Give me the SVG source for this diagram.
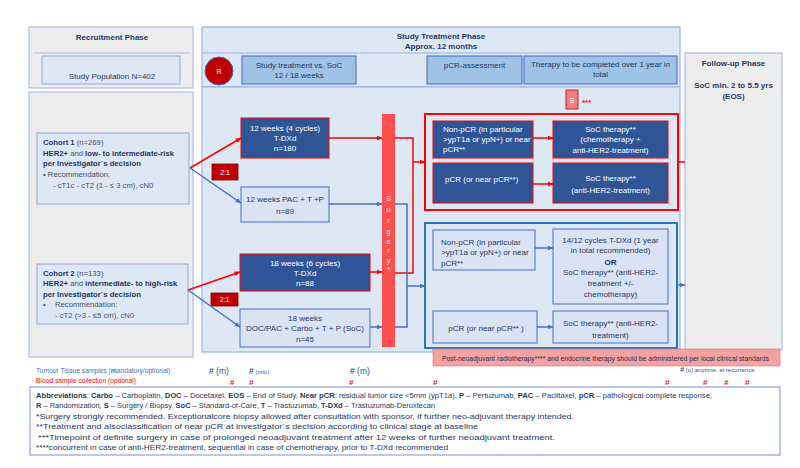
<svg xmlns="http://www.w3.org/2000/svg" width="800" height="468" viewBox="0 0 800 468">
<defs>
<marker id="ar" viewBox="0 0 10 10" refX="9" refY="5" markerUnits="userSpaceOnUse" markerWidth="6" markerHeight="6" orient="auto"><path d="M0,1 L10,5 L0,9 z" fill="#ff0000"/></marker>
<marker id="ab" viewBox="0 0 10 10" refX="9" refY="5" markerUnits="userSpaceOnUse" markerWidth="6" markerHeight="6" orient="auto"><path d="M0,1 L10,5 L0,9 z" fill="#4472c4"/></marker>
</defs>
<style>
text{font-family:"Liberation Sans",Arial,sans-serif;}
.t{font-size:8px;fill:#1f3864}
.c{text-anchor:middle}
.b{font-weight:bold}
.w{font-size:8px;fill:#ffffff}
.k{font-size:7.7px;fill:#1f3864}
.g{font-size:7.7px;fill:#44546a}
.grey{fill:#ededed;stroke:#a9bde3;stroke-width:1.2}
.pan{fill:#dee7f4;stroke:#9db5e0;stroke-width:1.2}
.hdr{fill:#9dc3e6;stroke:#4a64c8;stroke-width:1}
.dk{fill:#2f5597;stroke:#ff0000;stroke-width:1}
.lt{fill:#dae3f3;stroke:#4472c4;stroke-width:1}
.rl{fill:none;stroke:#ff0000;stroke-width:1.5}
.bl{fill:none;stroke:#4472c4;stroke-width:1.5}
.ab{font-size:7.5px;fill:#1f3864}
.rh{font-size:8px;fill:#ff0000;font-weight:bold}
</style>
<rect width="800" height="468" fill="#ffffff"/>

<!-- Recruitment phase -->
<g id="recruitment">
<rect x="29" y="27" width="164" height="61" class="grey"/>
<text x="112" y="39.5" class="t c b">Recruitment Phase</text>
<line x1="33" y1="53" x2="191" y2="53" stroke="#a9bde3" stroke-width="1"/>
</g>
<g id="study-population">
<rect x="42" y="56" width="138" height="28" fill="#dee7f4" stroke="#8eaadb" stroke-width="1"/>
<text x="112" y="78.5" class="t c">Study Population N=402</text>
</g>
<g id="cohort-panel">
<rect x="29" y="92" width="164" height="265" class="grey"/>
</g>

<!-- Study treatment phase -->
<g id="treatment-panel">
<rect x="202" y="27" width="478" height="60" class="pan"/>
<rect x="202" y="87" width="478" height="265" class="pan"/>
<line x1="202" y1="53" x2="660" y2="53" stroke="#9db5e0" stroke-width="1"/>
<text x="441" y="39" class="t c b">Study Treatment Phase</text>
<text x="441" y="49" class="t c b">Approx. 12 months</text>
</g>
<g id="R">
<circle cx="219" cy="71" r="14" fill="#c00000" stroke="#4a64c8" stroke-width="1"/>
<text x="219" y="73.5" class="w c" style="font-size:7px">R</text>
</g>
<g id="hdr-study">
<rect x="242" y="56" width="114" height="28" class="hdr"/>
<text x="299" y="67.5" class="t c">Study treatment vs. SoC</text>
<text x="299" y="77.5" class="t c">12 / 18 weeks</text>
</g>
<g id="hdr-pcr">
<rect x="427" y="56" width="95" height="28" class="hdr"/>
<text x="474.5" y="67.5" class="t c">pCR-assessment</text>
</g>
<g id="hdr-therapy">
<rect x="524" y="56" width="153" height="28" class="hdr"/>
<text x="600.5" y="67" class="t c">Therapy to be completed over 1 year in</text>
<text x="600.5" y="77" class="t c">total</text>
</g>

<!-- Follow-up -->
<g id="followup">
<rect x="685" y="53" width="97" height="297" class="grey"/>
<text x="733.5" y="66" class="t c b">Follow-up Phase</text>
<text x="733.5" y="88" class="t c b">SoC min. 2 to 5.5 yrs</text>
<text x="733.5" y="99" class="t c b">(EOS)</text>
</g>

<!-- Cohorts -->
<g id="cohort1">
<rect x="37" y="133" width="152" height="71" fill="#dee7f4" stroke="#8eaadb" stroke-width="1"/>
<text x="43" y="145" class="k"><tspan class="b">Cohort 1</tspan><tspan fill="#44546a"> (n=269)</tspan></text>
<text x="43" y="155.5" class="k b">HER2+<tspan font-weight="normal" fill="#44546a"> and </tspan>low- to intermediate-risk</text>
<text x="43" y="166" class="k b">per Investigator´s decision</text>
<text x="43" y="176.5" class="g">• Recommendation:</text>
<text x="53" y="188" class="g">- cT1c - cT2 (1 - ≤ 3 cm), cN0</text>
</g>
<g id="cohort2">
<rect x="37" y="264" width="151" height="60" fill="#dee7f4" stroke="#8eaadb" stroke-width="1"/>
<text x="43" y="275.5" class="k"><tspan class="b">Cohort 2</tspan><tspan fill="#44546a"> (n=133)</tspan></text>
<text x="43" y="286" class="k b">HER2+<tspan font-weight="normal" fill="#44546a"> and </tspan>intermediate- to high-risk</text>
<text x="43" y="296.5" class="k b">per Investigator´s decision</text>
<text x="43" y="307" class="g">•</text>
<text x="55" y="307" class="g">Recommendation:</text>
<text x="55" y="318" class="g">- cT2 (&gt;3 - ≤5 cm), cN0</text>
</g>

<!-- Arms -->
<g id="arm1">
<rect x="241" y="118" width="88" height="40" class="dk"/>
<text x="285" y="130.5" class="w c">12 weeks (4 cycles)</text>
<text x="285" y="140.5" class="w c">T-DXd</text>
<text x="285" y="150.5" class="w c">n=180</text>
</g>
<g id="ratio1">
<rect x="212" y="164" width="26" height="16" fill="#c00000" stroke="#7f0000" stroke-width="0.8"/>
<text x="225" y="174.5" class="w c" style="font-size:7px">2:1</text>
</g>
<g id="arm2">
<rect x="241" y="187" width="88" height="35" class="lt"/>
<text x="285" y="201.5" class="t c">12 weeks PAC + T +P</text>
<text x="285" y="213.5" class="t c">n=89</text>
</g>
<g id="arm3">
<rect x="240" y="254" width="130" height="37" class="dk"/>
<text x="305" y="265.5" class="w c">18 weeks (6 cycles)</text>
<text x="305" y="275.5" class="w c">T-DXd</text>
<text x="305" y="285.5" class="w c">n=88</text>
</g>
<g id="ratio2">
<rect x="211" y="293" width="27" height="13" fill="#c00000" stroke="#7f0000" stroke-width="0.8"/>
<text x="224.5" y="302" class="w c" style="font-size:7px">2:1</text>
</g>
<g id="arm4">
<rect x="240" y="309" width="130" height="38" class="lt"/>
<text x="305" y="320.5" class="t c">18 weeks</text>
<text x="305" y="330.5" class="t c">DOC/PAC + Carbo + T + P (SoC)</text>
<text x="305" y="341.5" class="t c">n=45</text>
</g>

<!-- Surgery -->
<g id="surgery">
<rect x="382" y="114" width="13" height="233" fill="#ff5050"/>
<g class="w c" style="font-size:7px">
<text x="388.5" y="201">S</text>
<text x="388.5" y="212">u</text>
<text x="388.5" y="223">r</text>
<text x="388.5" y="234">g</text>
<text x="388.5" y="244">e</text>
<text x="388.5" y="253">r</text>
<text x="388.5" y="263">y</text>
<text x="388.5" y="272">*</text>
</g>
</g>

<g id="S-marker">
<rect x="566" y="90" width="12" height="19" fill="#f08080" stroke="#c00000" stroke-width="0.8"/>
<text x="572" y="102.5" class="w c" style="font-size:7px">S</text>
<text x="582" y="105" class="rh">***</text>
</g>

<!-- Red container -->
<g id="red-container">
<rect x="425" y="114" width="253" height="96" fill="none" stroke="#ff0000" stroke-width="2"/>
</g>
<g id="r-nonpcr">
<rect x="433" y="121" width="100" height="37" class="dk"/>
<text x="443" y="131.5" class="w">Non-pCR (in particular</text>
<text x="443" y="141.5" class="w">&gt;ypT1a or ypN+) or near</text>
<text x="443" y="151.5" class="w">pCR**</text>
</g>
<g id="r-soc1">
<rect x="553" y="121" width="115" height="37" class="dk"/>
<text x="610.5" y="131.5" class="w c">SoC therapy**</text>
<text x="610.5" y="142" class="w c">(chemotherapy +</text>
<text x="610.5" y="152.5" class="w c">anti-HER2-treatment)</text>
</g>
<g id="r-pcr">
<rect x="433" y="163" width="100" height="40" class="dk"/>
<text x="445" y="181.5" class="w">pCR (or near pCR**)</text>
</g>
<g id="r-soc2">
<rect x="553" y="163" width="115" height="40" class="dk"/>
<text x="610.5" y="180.5" class="w c">SoC therapy**</text>
<text x="610.5" y="192.5" class="w c">(anti-HER2-treatment)</text>
</g>

<!-- Blue container -->
<g id="blue-container">
<rect x="425" y="223" width="252" height="125" fill="none" stroke="#2e75b6" stroke-width="2"/>
</g>
<g id="b-nonpcr">
<rect x="433" y="230" width="102" height="40" class="lt"/>
<text x="441" y="244.5" class="t">Non-pCR (in particular</text>
<text x="441" y="255" class="t">&gt;ypT1a or ypN+) or near</text>
<text x="441" y="265.5" class="t">pCR**</text>
</g>
<g id="b-tdxd">
<rect x="553" y="229" width="115" height="75" class="lt"/>
<text x="610.5" y="242.5" class="t c">14/12 cycles T-DXd (1 year</text>
<text x="610.5" y="252.5" class="t c">in total recommended)</text>
<text x="610.5" y="264.5" class="t c b">OR</text>
<text x="610.5" y="274.5" class="t c">SoC therapy** (anti-HER2-</text>
<text x="610.5" y="285.5" class="t c">treatment +/-</text>
<text x="610.5" y="296.5" class="t c">chemotherapy)</text>
</g>
<g id="b-pcr">
<rect x="433" y="311" width="104" height="32" class="lt"/>
<text x="486" y="330.5" class="t c">pCR (or near pCR** )</text>
</g>
<g id="b-soc">
<rect x="553" y="311" width="115" height="32" class="lt"/>
<text x="610.5" y="325.5" class="t c">SoC therapy** (anti-HER2-</text>
<text x="610.5" y="337.5" class="t c">treatment)</text>
</g>

<g id="post-neoadjuvant">
<rect x="433" y="349" width="347" height="17" fill="#f4a3a3" stroke="#e07070" stroke-width="0.6"/>
<text x="442" y="360.5" textLength="327" lengthAdjust="spacingAndGlyphs" style="font-size:7px;fill:#2b2b55">Post-neoadjuvant radiotherapy**** and endocrine therapy should be administered per local clinical standards</text>
</g>

<!-- Connectors -->
<g id="connectors">
<polyline points="190,168 241,138" class="rl" marker-end="url(#ar)"/>
<polyline points="190,168 241,203" class="bl" marker-end="url(#ab)"/>
<polyline points="188,290 240,272" class="rl" marker-end="url(#ar)"/>
<polyline points="188,290 240,327" class="bl" marker-end="url(#ab)"/>
<line x1="329" y1="138" x2="382" y2="138" class="rl" marker-end="url(#ar)"/>
<line x1="329" y1="204" x2="382" y2="204" class="bl" marker-end="url(#ab)"/>
<line x1="370" y1="272" x2="382" y2="272" class="rl" marker-end="url(#ar)"/>
<line x1="370" y1="327" x2="382" y2="327" class="bl" marker-end="url(#ab)"/>
<polyline points="395,138 413,138 413,273 395,273" class="rl"/>
<line x1="413" y1="162" x2="425" y2="162" class="rl" marker-end="url(#ar)"/>
<polyline points="395,204 407,204 407,327 395,327" class="bl"/>
<line x1="407" y1="286" x2="425" y2="286" class="bl" marker-end="url(#ab)"/>
<line x1="533" y1="138" x2="553" y2="138" class="rl" marker-end="url(#ar)"/>
<line x1="533" y1="184" x2="553" y2="184" class="rl" marker-end="url(#ar)"/>
<line x1="535" y1="248" x2="553" y2="248" class="bl" marker-end="url(#ab)"/>
<line x1="537" y1="327" x2="553" y2="327" class="bl" marker-end="url(#ab)"/>
<line x1="678" y1="162" x2="685" y2="162" class="rl"/>
<line x1="677" y1="285" x2="685" y2="285" class="bl" marker-end="url(#ab)"/>
</g>

<!-- Sample legend -->
<g id="samples">
<text x="36" y="372.5" style="font-size:6.7px;fill:#4472c4">Tumour Tissue samples (<tspan font-weight="bold">m</tspan>andatory/optional)</text>
<text x="36" y="383" style="font-size:6.7px;fill:#ff0000">Blood sample collection (optional)</text>
<text x="209" y="373.5" style="font-size:8.5px;fill:#2f5597"><tspan font-weight="bold">#</tspan> (m)</text>
<text x="249" y="373.5" style="font-size:8.5px;fill:#2f5597"><tspan font-weight="bold">#</tspan><tspan style="font-size:6px"> (m/o)</tspan></text>
<text x="350" y="373.5" style="font-size:8.5px;fill:#2f5597"><tspan font-weight="bold">#</tspan> (m)</text>
<text x="680" y="372" style="font-size:7.5px;fill:#2f5597"><tspan font-weight="bold">#</tspan><tspan style="font-size:6px"> (o) anytime, at recurrence</tspan></text>
<text x="230" y="385" class="rh">#</text>
<text x="249" y="385" class="rh">#</text>
<text x="349" y="385" class="rh">#</text>
<text x="433" y="385" class="rh">#</text>
<text x="665" y="385" class="rh">#</text>
<text x="703" y="385" class="rh">#</text>
<text x="724" y="385" class="rh">#</text>
<text x="745" y="385" class="rh">#</text>
</g>

<!-- Abbreviations -->
<g id="abbreviations">
<rect x="30" y="387" width="750" height="68" fill="#ffffff" stroke="#7b8fd6" stroke-width="1"/>
<text x="36" y="397.5" class="ab" textLength="676" lengthAdjust="spacingAndGlyphs"><tspan class="b">Abbreviations</tspan>: <tspan class="b">Carbo</tspan> – Carboplatin, <tspan class="b">DOC</tspan> – Docetaxel, <tspan class="b">EOS</tspan> – End of Study, <tspan class="b">Near pCR</tspan>: residual tumor size &lt;5mm (ypT1a), <tspan class="b">P</tspan> – Pertuzumab, <tspan class="b">PAC</tspan> – Paclitaxel, <tspan class="b">pCR</tspan> – pathological complete response,</text>
<text x="36" y="408" class="ab" textLength="399" lengthAdjust="spacingAndGlyphs"><tspan class="b">R</tspan> – Randomization, <tspan class="b">S</tspan> – Surgery / Biopsy, <tspan class="b">SoC</tspan> – Standard-of-Care, <tspan class="b">T</tspan> – Trastuzumab, <tspan class="b">T-DXd</tspan> – Trastuzumab-Deruxtecan</text>
<text x="36" y="418.5" class="ab" textLength="538" lengthAdjust="spacingAndGlyphs">*Surgery strongly recommended. Exceptionalcore biopsy allowed after consultation with sponsor, if further neo-adjuvant therapy intended.</text>
<text x="36" y="429" class="ab" textLength="442" lengthAdjust="spacingAndGlyphs">**Treatment and alsoclassification of near pCR at investigator´s decision according to clinical stage at baseline</text>
<text x="38" y="439.5" class="ab" textLength="517" lengthAdjust="spacingAndGlyphs">***Timepoint of definite surgery in case of prolonged neoadjuvant treatment after 12 weeks of further neoadjuvant treatment.</text>
<text x="36" y="450" class="ab" textLength="412" lengthAdjust="spacingAndGlyphs">****concurrent in case of anti-HER2-treatment, sequential in case of chemotherapy, prior to T-DXd recommended</text>
</g>
</svg>
